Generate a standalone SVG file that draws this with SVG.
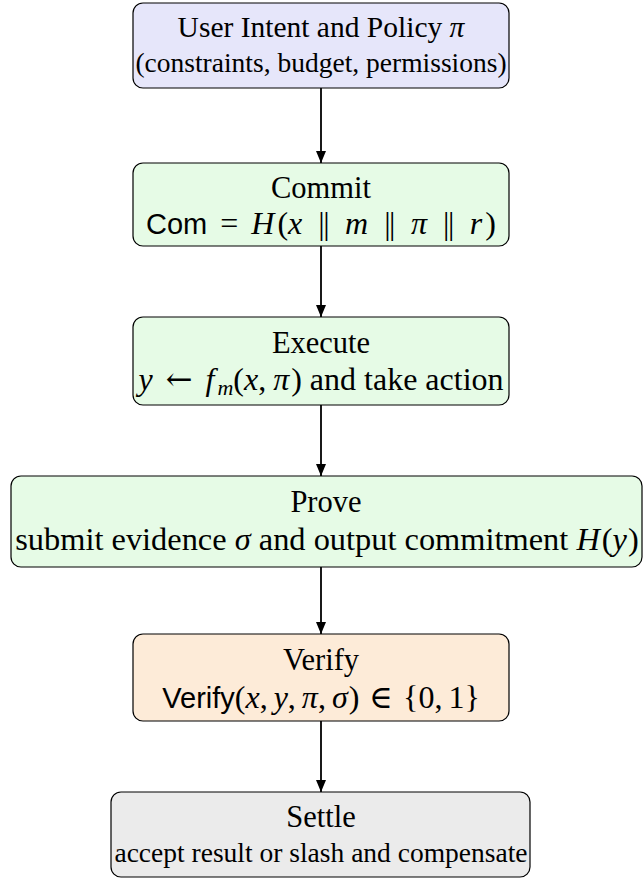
<svg xmlns="http://www.w3.org/2000/svg" width="644" height="880" viewBox="0 0 644 880">
  <defs>
    <marker id="arrowhead" markerWidth="12" markerHeight="10" refX="12" refY="5" orient="auto" markerUnits="userSpaceOnUse">
      <path d="M0,0 L12,5 L0,10 Z" fill="#000"/>
    </marker>
    <style>
      .box { stroke: #000; stroke-width: 1.2; }
      .intent { fill: #e6e6fa; }
      .step { fill: #e6fbe6; }
      .check { fill: #fdebd8; }
      .settle { fill: #ebebeb; }
      text { font-family: "Liberation Serif", "Times New Roman", serif; font-size: 30.5px; fill: #000; text-anchor: middle; }
      .small { font-size: 27.5px; }
      .line { font-size: 32px; }
      .it { font-style: italic; }
      .sf { font-family: "Liberation Sans", Arial, sans-serif; font-size: 29px; }
      .sym { font-family: "DejaVu Serif", serif; font-weight: normal; }
      .sub { font-size: 22px; }
      .bar { letter-spacing: -1.5px; }
      .edge { stroke: #000; stroke-width: 1.8; fill: none; marker-end: url(#arrowhead); }
    </style>
  </defs>

  <!-- process steps -->
  <g id="intent">
    <rect class="box intent" x="133" y="3" width="376" height="85" rx="10"/>
    <text x="321" y="37" style="font-size:29.5px">User Intent and Policy <tspan class="it">π</tspan></text>
    <text class="small" x="321" y="72">(constraints, budget, permissions)</text>
  </g>

  <g id="commit">
    <rect class="box step" x="133" y="163" width="376" height="83" rx="10"/>
    <text x="321" y="198">Commit</text>
    <text class="line" x="321" y="234"><tspan class="sf">Com</tspan><tspan dx="13">=</tspan><tspan class="it" dx="13">H</tspan><tspan dx="3">(</tspan><tspan class="it">x</tspan><tspan class="bar" dx="16">||</tspan><tspan class="it" dx="17">m</tspan><tspan class="bar" dx="16">||</tspan><tspan class="it" dx="17">π</tspan><tspan class="bar" dx="16">||</tspan><tspan class="it" dx="17">r</tspan><tspan dx="3">)</tspan></text>
  </g>

  <g id="execute">
    <rect class="box step" x="133" y="317" width="376" height="88" rx="10"/>
    <text x="321" y="353">Execute</text>
    <text class="line" x="321" y="390"><tspan class="it">y</tspan><tspan class="sym" dx="13">←</tspan><tspan class="it" dx="13">f</tspan><tspan class="it sub" dx="3" dy="5">m</tspan><tspan dy="-5">(</tspan><tspan class="it">x</tspan>,<tspan class="it" dx="7">π</tspan><tspan dx="2">)</tspan> and take action</text>
  </g>

  <g id="prove">
    <rect class="box step" x="11" y="476" width="631" height="91" rx="10"/>
    <text x="326" y="512">Prove</text>
    <text class="line" x="327" y="550" style="font-size:32.4px">submit evidence <tspan class="it">σ</tspan> and output commitment <tspan class="it">H</tspan><tspan dx="2">(</tspan><tspan class="it">y</tspan><tspan dx="1">)</tspan></text>
  </g>

  <g id="verify">
    <rect class="box check" x="133" y="634" width="376" height="87" rx="10"/>
    <text x="321" y="670">Verify</text>
    <text class="line" x="321" y="708"><tspan class="sf">Verify</tspan>(<tspan class="it">x</tspan>,<tspan class="it" dx="6">y</tspan>,<tspan class="it" dx="6">π</tspan>,<tspan class="it" dx="6">σ</tspan><tspan dx="1">)</tspan><tspan class="sym" dx="10">∈</tspan><tspan dx="10">{0,</tspan><tspan dx="6">1}</tspan></text>
  </g>

  <g id="settle">
    <rect class="box settle" x="111" y="792" width="419" height="85" rx="10"/>
    <text x="321" y="827">Settle</text>
    <text class="small" x="321" y="862">accept result or slash and compensate</text>
  </g>

  <!-- connectors -->
  <g id="connectors">
    <line class="edge" x1="321" y1="88" x2="321" y2="163"/>
    <line class="edge" x1="321" y1="246" x2="321" y2="317"/>
    <line class="edge" x1="321" y1="405" x2="321" y2="476"/>
    <line class="edge" x1="321" y1="567" x2="321" y2="634"/>
    <line class="edge" x1="321" y1="721" x2="321" y2="792"/>
  </g>
</svg>
